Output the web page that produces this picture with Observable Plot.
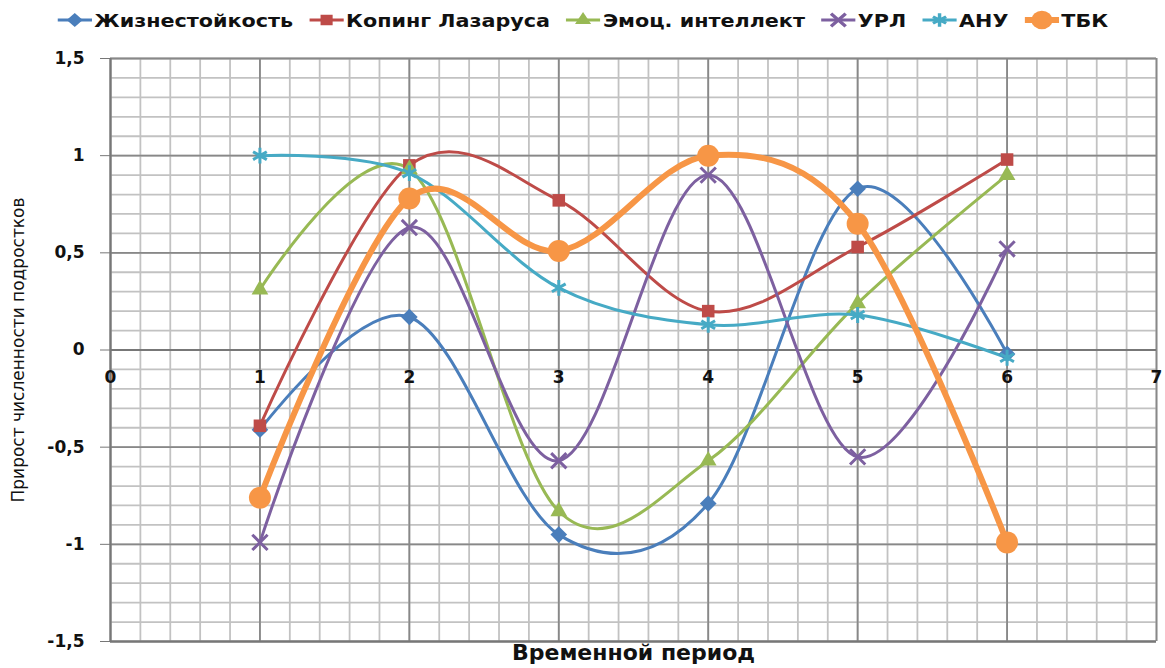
<!DOCTYPE html>
<html>
<head>
<meta charset="utf-8">
<script src="https://cdn.jsdelivr.net/npm/d3@7"></script>
<script src="https://cdn.jsdelivr.net/npm/@observablehq/plot@0.6"></script>
<style>
  html, body { margin: 0; padding: 0; background: #fff; overflow: hidden; }
  #legend { height: 40px; display: flex; align-items: center; justify-content: flex-start; gap: 14px;
    font-family: "DejaVu Sans", sans-serif; font-weight: bold; font-size: 18px; color: #111;
    padding-left: 50px; box-sizing: border-box; transform: scaleX(1.15); transform-origin: 0 50%; width: 1000px; }
  .item { display: flex; align-items: center; gap: 2px; }
  #chart svg { display: block; }
</style>
</head>
<body>
<div id="legend"></div>
<div id="chart"></div>
<script>
// ---- data ----
const periods = [1, 2, 3, 4, 5, 6];
const seriesNames = ["Жизнестойкость", "Копинг Лазаруса", "Эмоц. интеллект", "УРЛ", "АНУ", "ТБК"];
const hardiness = [-0.41, 0.17, -0.95, -0.79, 0.83, -0.02];
const coping    = [-0.39, 0.95, 0.77, 0.20, 0.53, 0.98];
const emotional = [0.31, 0.93, -0.83, -0.57, 0.24, 0.90];
const url       = [-0.99, 0.63, -0.57, 0.90, -0.55, 0.52];
const anu       = [1.00, 0.91, 0.32, 0.13, 0.18, -0.04];
const tbk       = [-0.76, 0.78, 0.51, 1.00, 0.65, -0.99];
const xTicks = [0, 1, 2, 3, 4, 5, 6, 7];
const yTicks = [-1.5, -1, -0.5, 0, 0.5, 1, 1.5];
const xTitle = "Временной период";
const yTitle = "Прирост численности подростков";

// ---- styles ----
const colors = ["#4A7EBB", "#BE4B48", "#98B954", "#7D60A0", "#46AAC5", "#F79646"];
const symbols = ["diamond2", "square2", "triangle2", "times", "asterisk", "circle"];
const widths = [3, 3, 3, 3, 3, 6];
const radii = [7.5, 8, 8, 7, 7.5, 11];
const filled = [true, true, true, false, false, true];
const valuesList = [hardiness, coping, emotional, url, anu, tbk];

const data = [];
seriesNames.forEach((name, s) => {
  periods.forEach((p, i) => data.push({series: name, s, x: p, y: valuesList[s][i]}));
});

const minorX = d3.range(0, 7.0001, 0.2);
const minorY = d3.range(-1.5, 1.5001, 0.1);

const marks = [
  Plot.gridX(minorX, {stroke: "#c2c2c2", strokeOpacity: 1, strokeWidth: 1.8}),
  Plot.gridY(minorY, {stroke: "#c2c2c2", strokeOpacity: 1, strokeWidth: 1.8}),
  Plot.gridX(xTicks, {stroke: "#888", strokeOpacity: 1, strokeWidth: 1.8}),
  Plot.gridY(yTicks, {stroke: "#888", strokeOpacity: 1, strokeWidth: 1.8}),
  Plot.ruleY([0], {stroke: "#777", strokeWidth: 2}),
  Plot.ruleY([-1.5], {stroke: "#777", strokeWidth: 2}),
  Plot.ruleX([0], {stroke: "#777", strokeWidth: 2}),
  Plot.axisY(yTicks, {
    tickSize: 10, tickPadding: 16, stroke: "#777",
    tickFormat: d => String(d).replace(".", ","),
    fontSize: 17, fontWeight: "bold", fill: "#111", label: null
  }),
  Plot.text(xTicks, {x: d => d, y: 0, dy: 28, text: d => String(d), fontSize: 17, fontWeight: "bold", fill: "#111"})
];

seriesNames.forEach((name, s) => {
  const sd = data.filter(d => d.s === s);
  marks.push(Plot.line(sd, {x: "x", y: "y", stroke: colors[s], strokeWidth: widths[s], curve: "cardinal"}));
});
seriesNames.forEach((name, s) => {
  const sd = data.filter(d => d.s === s);
  marks.push(Plot.dot(sd, {
    x: "x", y: "y", symbol: () => symbols[s], r: radii[s],
    fill: filled[s] ? colors[s] : "none",
    stroke: colors[s], strokeWidth: filled[s] ? 0 : 3
  }));
});

marks.push(Plot.text([xTitle], {frameAnchor: "bottom", dy: 18, text: d => d, fontSize: 22, fontWeight: "bold", fill: "#111", fontFamily: "DejaVu Sans"}));
marks.push(Plot.text([yTitle], {frameAnchor: "left", textAnchor: "middle", dx: -92, rotate: -90, text: d => d, fontSize: 17, fill: "#111", fontFamily: "DejaVu Sans"}));

const chart = Plot.plot({
  width: 1165, height: 628,
  marginTop: 18, marginBottom: 27, marginLeft: 110, marginRight: 9,
  style: {fontFamily: "DejaVu Sans", background: "#fff", overflow: "visible"},
  x: {domain: [0, 7], axis: null},
  y: {domain: [-1.5, 1.5]},
  symbol: {type: "identity"},
  marks
});
document.getElementById("chart").appendChild(chart);

// ---- legend ----
const legend = document.getElementById("legend");
const symMap = {diamond2: d3.symbolDiamond2, square2: d3.symbolSquare2, triangle2: d3.symbolTriangle2,
  times: d3.symbolTimes, asterisk: d3.symbolAsterisk, circle: d3.symbolCircle};
seriesNames.forEach((name, s) => {
  const item = document.createElement("div");
  item.className = "item";
  const svg = d3.create("svg").attr("width", 30).attr("height", 22);
  svg.append("line").attr("x1", 0).attr("x2", 30).attr("y1", 11).attr("y2", 11)
    .attr("stroke", colors[s]).attr("stroke-width", widths[s]);
  svg.append("path").attr("transform", "translate(15,11)")
    .attr("d", d3.symbol(symMap[symbols[s]], Math.PI * radii[s] * radii[s] * 0.7)())
    .attr("fill", filled[s] ? colors[s] : "none")
    .attr("stroke", filled[s] ? "none" : colors[s]).attr("stroke-width", 3);
  item.appendChild(svg.node());
  const span = document.createElement("span");
  span.textContent = name;
  item.appendChild(span);
  legend.appendChild(item);
});
</script>
</body>
</html>
